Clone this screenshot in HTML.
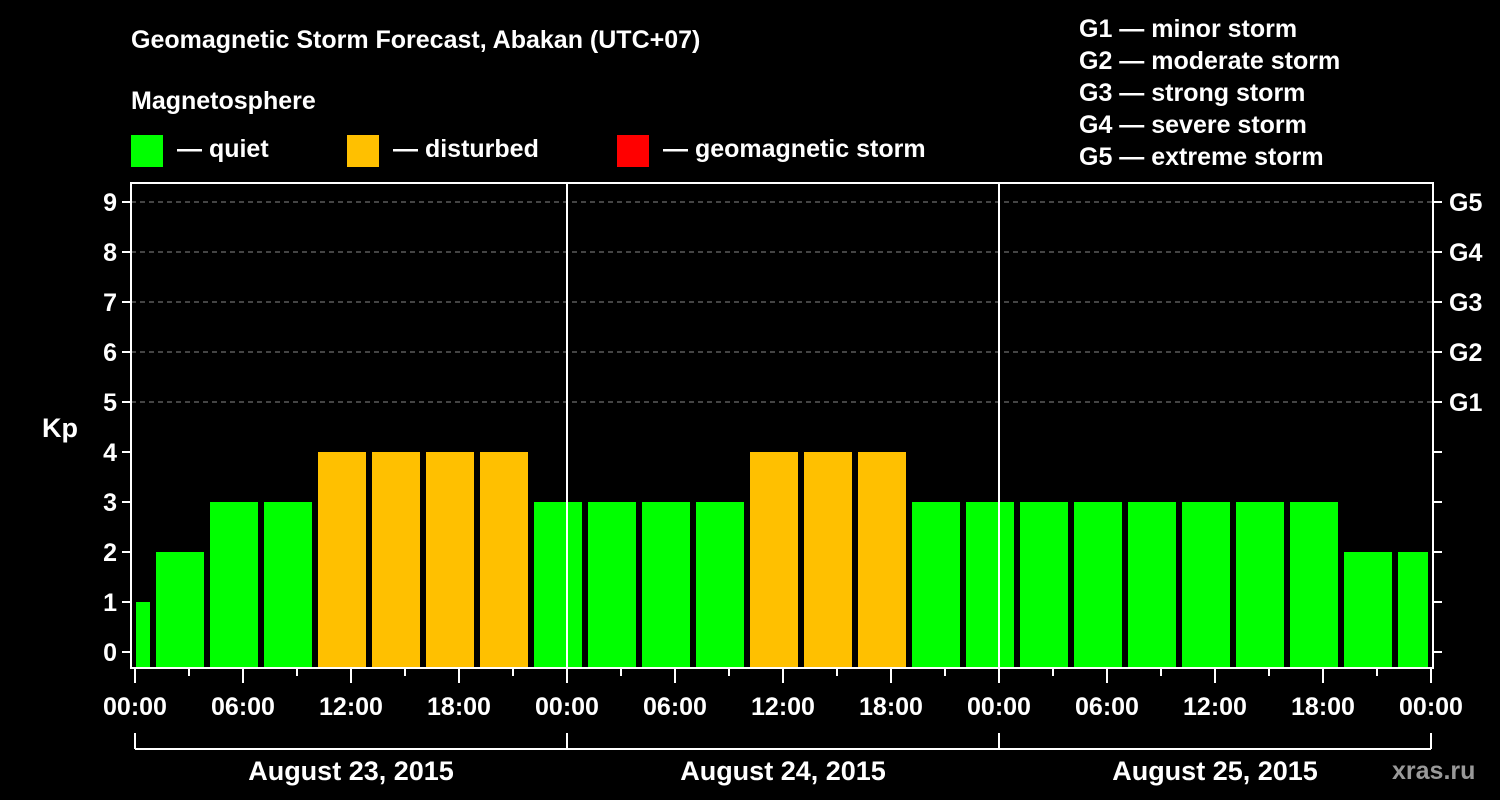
<!DOCTYPE html>
<html><head><meta charset="utf-8"><style>
html,body{margin:0;padding:0;background:#000;}
svg{display:block;font-family:"Liberation Sans",Arial,sans-serif;font-weight:bold;}
</style></head><body>
<svg id="chart" width="1500" height="800" viewBox="0 0 1500 800">
<rect x="0" y="0" width="1500" height="800" fill="#000"/>
<text x="131" y="48" fill="#fff" font-size="25">Geomagnetic Storm Forecast, Abakan (UTC+07)</text>
<text x="131" y="109" fill="#fff" font-size="25">Magnetosphere</text>
<g><rect x="131" y="135" width="32" height="32" fill="#00ff00"/><text x="177" y="157" fill="#fff" font-size="25">— quiet</text></g>
<g><rect x="347" y="135" width="32" height="32" fill="#ffc000"/><text x="393" y="157" fill="#fff" font-size="25">— disturbed</text></g>
<g><rect x="617" y="135" width="32" height="32" fill="#ff0000"/><text x="663" y="157" fill="#fff" font-size="25">— geomagnetic storm</text></g>
<g fill="#fff" font-size="25">
<text x="1079" y="37">G1 — minor storm</text>
<text x="1079" y="69">G2 — moderate storm</text>
<text x="1079" y="101">G3 — strong storm</text>
<text x="1079" y="133">G4 — severe storm</text>
<text x="1079" y="165">G5 — extreme storm</text>
</g>
<text x="42" y="437" fill="#fff" font-size="27">Kp</text>
<text x="1392" y="779" fill="#999" font-size="25">xras.ru</text>
<g id="grid"></g><g id="bars"></g><g id="axes"></g>
</svg>
<script>
const kpValues = [1,2,3,3,4,4,4,4,3,3,3,3,4,4,4,3,3,3,3,3,3,3,3,2,2,2];
const barStartHours = [-2,1,4,7,10,13,16,19,22,25,28,31,34,37,40,43,46,49,52,55,58,61,64,67,70];
const yTicks = [0,1,2,3,4,5,6,7,8,9];
const gLabels = ["G1","G2","G3","G4","G5"];
const xTickLabels = ["00:00","06:00","12:00","18:00","00:00","06:00","12:00","18:00","00:00","06:00","12:00","18:00","00:00"];
const dayLabels = ["August 23, 2015","August 24, 2015","August 25, 2015"];
const NS="http://www.w3.org/2000/svg";
const X0=135, PXH=18, Y0=652, PXK=50, TOP=183, BOT=668, LEFT=131, RIGHT=1433;
const xs=h=>X0+h*PXH, ys=k=>Y0-k*PXK;
function mk(t,a,p){const e=document.createElementNS(NS,t);for(const k in a)e.setAttribute(k,a[k]);p.appendChild(e);return e;}
const grid=document.getElementById('grid'),bars=document.getElementById('bars'),axes=document.getElementById('axes');
yTicks.forEach(v=>{if(v>=5){const l=mk('line',{x1:LEFT,x2:RIGHT,y1:ys(v),y2:ys(v),stroke:'#888','stroke-dasharray':'5,4','stroke-width':1},grid);

}});
// values: kpValues has one extra leading entry? align to barStartHours
const vals = kpValues.slice(kpValues.length-barStartHours.length===1?0:0);
barStartHours.forEach((h,i)=>{
  const v=kpValues[i===0?0:i];
  let a=Math.max(h,0), b=Math.min(h+3,72);
  let x1=xs(a)+(h<0?1:3), x2=xs(b)-(h+3>72?3:3);
  const col=v>=5?'#ff0000':(v>=4?'#ffc000':'#00ff00');
  const r=mk('rect',{x:x1,y:ys(v),width:x2-x1,height:BOT-ys(v),fill:col},bars);
  
  
});
[24,48].forEach(h=>{const l=mk('line',{x1:xs(h),x2:xs(h),y1:TOP,y2:BOT,stroke:'#fff','stroke-width':2},axes);

});
const fr=mk('rect',{x:LEFT,y:TOP,width:RIGHT-LEFT,height:BOT-TOP,fill:'none',stroke:'#fff','stroke-width':2},axes);


yTicks.forEach(v=>{
  mk('line',{x1:LEFT-9,x2:LEFT,y1:ys(v),y2:ys(v),stroke:'#fff','stroke-width':2},axes);
  mk('line',{x1:RIGHT,x2:RIGHT+9,y1:ys(v),y2:ys(v),stroke:'#fff','stroke-width':2},axes);
  const t=mk('text',{x:LEFT-14,y:ys(v)+9,fill:'#fff','font-size':25,'text-anchor':'end'},axes);t.textContent=v;
  
  
  if(v>=5){const g=mk('text',{x:1449,y:ys(v)+9,fill:'#fff','font-size':25},axes);g.textContent=gLabels[v-5];
  
  }
});
for(let h=0;h<=72;h+=3){const major=h%6===0;
  mk('line',{x1:xs(h),x2:xs(h),y1:BOT,y2:BOT+(major?15:8),stroke:'#fff','stroke-width':2},axes);}
xTickLabels.forEach((s,i)=>{const t=mk('text',{x:xs(i*6),y:715,fill:'#fff','font-size':25,'text-anchor':'middle'},axes);t.textContent=s;

});
mk('line',{x1:xs(0),x2:xs(72),y1:749,y2:749,stroke:'#fff','stroke-width':2},axes);
[0,24,48,72].forEach(h=>mk('line',{x1:xs(h),x2:xs(h),y1:733,y2:749,stroke:'#fff','stroke-width':2},axes));
dayLabels.forEach((s,i)=>{const t=mk('text',{x:xs(i*24+12),y:780,fill:'#fff','font-size':27,'text-anchor':'middle'},axes);t.textContent=s;

});
</script>
</body></html>
